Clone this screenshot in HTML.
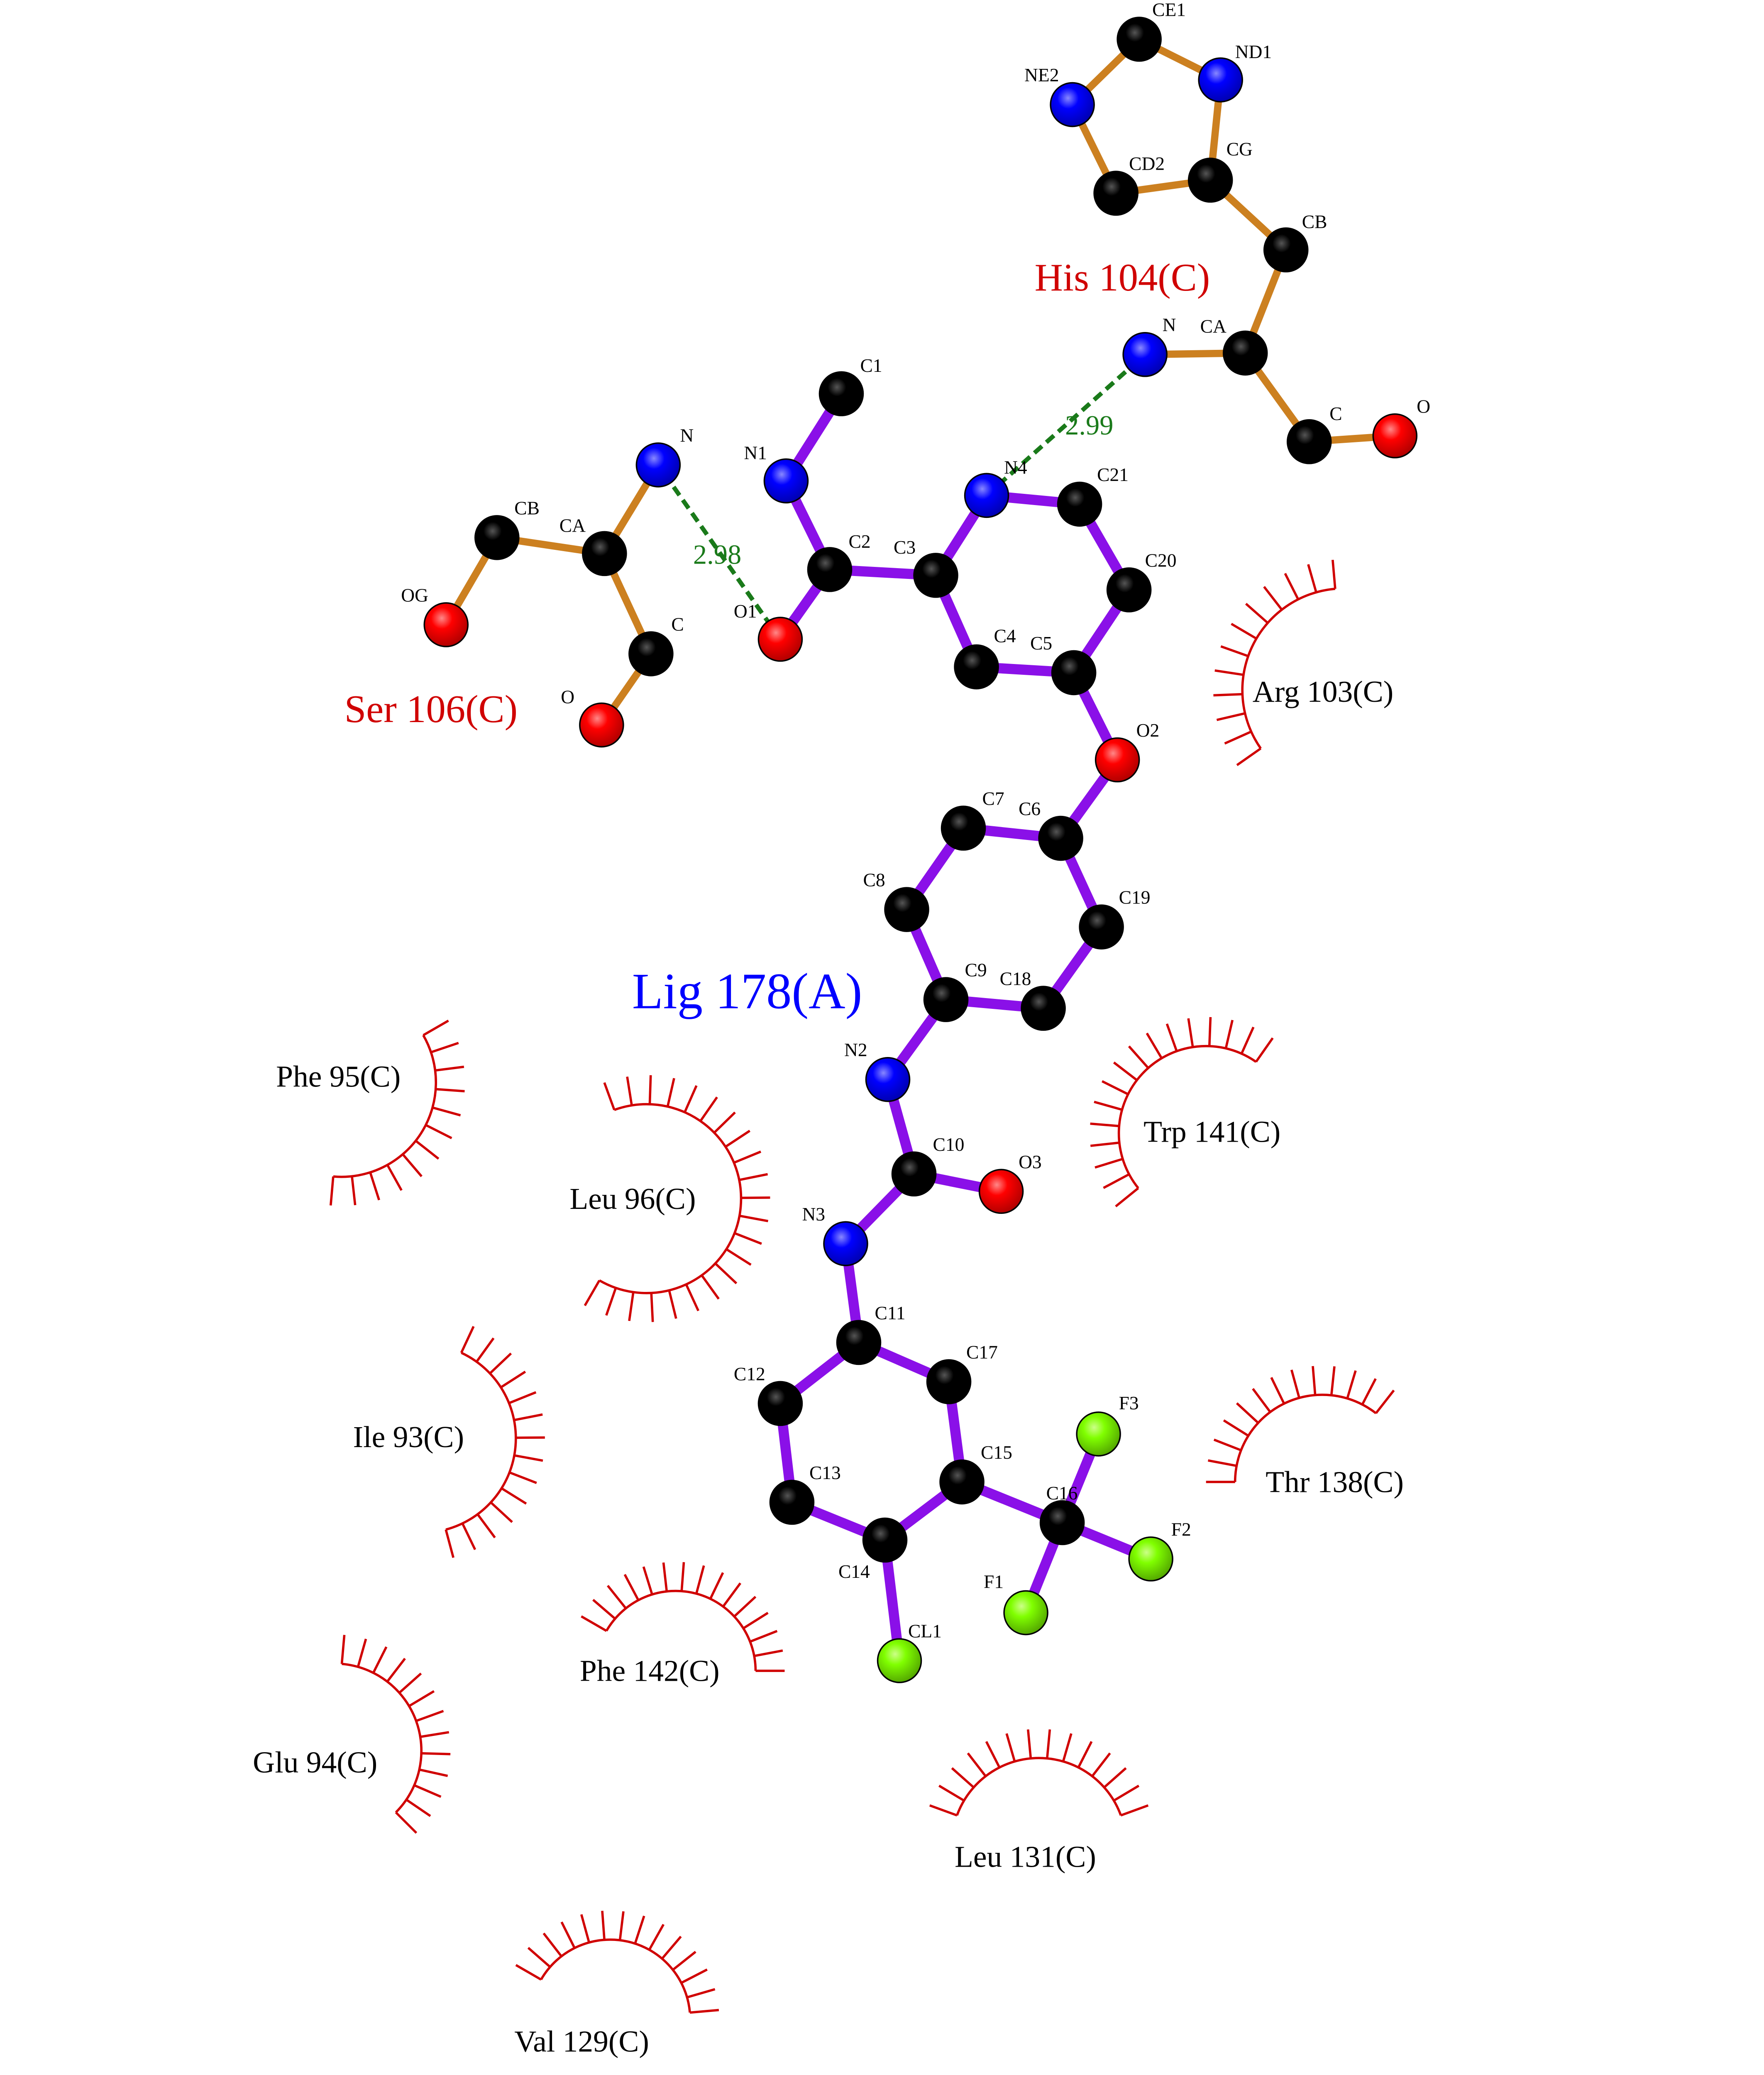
<!DOCTYPE html>
<html><head><meta charset="utf-8"><style>
html,body{margin:0;padding:0;background:#fff;width:4250px;height:5500px;overflow:hidden;}
svg{display:block;position:absolute;left:0;top:0;}
text{font-family:"Liberation Serif",serif;}
.al{font-size:13px;fill:#000;}
.hl{font-size:21px;fill:#000;}
</style></head><body>
<svg id="s" width="4250" height="5500" viewBox="0 0 1214 1571" preserveAspectRatio="none" xmlns="http://www.w3.org/2000/svg">
<defs>
<radialGradient id="gk" cx="0.4" cy="0.35" r="0.7"><stop offset="0" stop-color="#555"/><stop offset="0.3" stop-color="#000"/></radialGradient>
<radialGradient id="gb" cx="0.4" cy="0.35" r="0.7"><stop offset="0" stop-color="#88f"/><stop offset="0.35" stop-color="#0000ff"/><stop offset="1" stop-color="#0000aa"/></radialGradient>
<radialGradient id="gr" cx="0.4" cy="0.35" r="0.7"><stop offset="0" stop-color="#f88"/><stop offset="0.35" stop-color="#ff0000"/><stop offset="1" stop-color="#aa0000"/></radialGradient>
<radialGradient id="gg" cx="0.4" cy="0.35" r="0.7"><stop offset="0" stop-color="#cf8"/><stop offset="0.35" stop-color="#80ff00"/><stop offset="1" stop-color="#50a000"/></radialGradient>
</defs>
<g id="arcs" stroke="#d00000" stroke-width="1.6" fill="none"></g>
<g id="bonds" stroke-linecap="round"></g>
<g stroke="#1a7a1a" stroke-width="3" stroke-dasharray="7,4">
<line x1="679" y1="341" x2="788" y2="244"/>
<line x1="537" y1="440" x2="453" y2="320"/>
</g>
<g id="atoms" stroke="#000" stroke-width="1"></g>
<text x="733" y="299" font-size="19" fill="#1a7a1a">2.99</text>
<text x="477" y="388" font-size="19" fill="#1a7a1a">2.98</text>
<text x="712" y="200" font-size="27" fill="#d00000">His 104(C)</text>
<text x="237" y="497" font-size="27" fill="#d00000">Ser 106(C)</text>
<text x="435" y="694" font-size="35" fill="#0000ff">Lig 178(A)</text>
<text class="hl" x="862" y="483">Arg 103(C)</text>
<text class="hl" x="190" y="748">Phe 95(C)</text>
<text class="hl" x="392" y="832">Leu 96(C)</text>
<text class="hl" x="787" y="786">Trp 141(C)</text>
<text class="hl" x="243" y="996">Ile 93(C)</text>
<text class="hl" x="871" y="1027">Thr 138(C)</text>
<text class="hl" x="399" y="1157">Phe 142(C)</text>
<text class="hl" x="174" y="1220">Glu 94(C)</text>
<text class="hl" x="657" y="1285">Leu 131(C)</text>
<text class="hl" x="354" y="1412">Val 129(C)</text>
<text x="57" y="1470" font-size="16">.</text>
<g>
<text class="al" x="793" y="11">CE1</text><text class="al" x="850" y="40">ND1</text><text class="al" x="705" y="56">NE2</text>
<text class="al" x="777" y="117">CD2</text><text class="al" x="844" y="107">CG</text><text class="al" x="896" y="157">CB</text>
<text class="al" x="826" y="229">CA</text><text class="al" x="800" y="228">N</text><text class="al" x="915" y="289">C</text><text class="al" x="975" y="284">O</text>
<text class="al" x="468" y="304">N</text><text class="al" x="385" y="366">CA</text><text class="al" x="354" y="354">CB</text><text class="al" x="276" y="414">OG</text>
<text class="al" x="462" y="434">C</text><text class="al" x="386" y="484">O</text>
<text class="al" x="592" y="256">C1</text><text class="al" x="512" y="316">N1</text><text class="al" x="584" y="377">C2</text><text class="al" x="505" y="425">O1</text>
<text class="al" x="615" y="381">C3</text><text class="al" x="691" y="326">N4</text><text class="al" x="755" y="331">C21</text><text class="al" x="788" y="390">C20</text>
<text class="al" x="709" y="447">C5</text><text class="al" x="684" y="442">C4</text><text class="al" x="782" y="507">O2</text>
<text class="al" x="701" y="561">C6</text><text class="al" x="676" y="554">C7</text><text class="al" x="594" y="610">C8</text><text class="al" x="664" y="672">C9</text>
<text class="al" x="688" y="678">C18</text><text class="al" x="770" y="622">C19</text><text class="al" x="581" y="727">N2</text><text class="al" x="642" y="792">C10</text>
<text class="al" x="701" y="804">O3</text><text class="al" x="552" y="840">N3</text><text class="al" x="602" y="908">C11</text><text class="al" x="505" y="950">C12</text>
<text class="al" x="557" y="1018">C13</text><text class="al" x="577" y="1086">C14</text><text class="al" x="675" y="1004">C15</text><text class="al" x="665" y="935">C17</text>
<text class="al" x="720" y="1032">C16</text><text class="al" x="770" y="970">F3</text><text class="al" x="806" y="1057">F2</text><text class="al" x="677" y="1093">F1</text><text class="al" x="625" y="1127">CL1</text>
</g>
</svg>
<script>
var NS="http://www.w3.org/2000/svg";
function el(p,t,a){var e=document.createElementNS(NS,t);for(var k in a)e.setAttribute(k,a[k]);p.appendChild(e);return e;}
var A={CE1:[784,27,'k'],ND1:[840,55,'b'],NE2:[738,72,'b'],CD2:[768,133,'k'],CG:[833,124,'k'],CB:[885,172,'k'],CA:[857,243,'k'],N:[788,244,'b'],C:[901,304,'k'],O:[960,300,'r'],
sN:[453,320,'b'],sCA:[416,381,'k'],sCB:[342,370,'k'],sOG:[307,430,'r'],sC:[448,450,'k'],sO:[414,499,'r'],
C1:[579,271,'k'],N1:[541,331,'b'],C2:[571,392,'k'],O1:[537,440,'r'],C3:[644,396,'k'],N4:[679,341,'b'],C21:[743,347,'k'],C20:[777,406,'k'],C5:[739,463,'k'],C4:[672,459,'k'],O2:[769,523,'r'],
C6:[730,577,'k'],C7:[663,570,'k'],C8:[624,626,'k'],C9:[651,688,'k'],C18:[718,694,'k'],C19:[758,638,'k'],N2:[611,743,'b'],C10:[629,808,'k'],O3:[689,820,'r'],N3:[582,856,'b'],
C11:[591,924,'k'],C12:[537,966,'k'],C13:[545,1034,'k'],C14:[609,1060,'k'],C15:[662,1020,'k'],C17:[653,951,'k'],C16:[731,1048,'k'],F3:[756,987,'g'],F2:[792,1073,'g'],F1:[706,1110,'g'],CL1:[619,1143,'g']};
var his="CE1-ND1 CE1-NE2 NE2-CD2 CD2-CG CG-ND1 CG-CB CB-CA CA-N CA-C C-O sN-sCA sCA-sCB sCB-sOG sCA-sC sC-sO".split(" ");
var lig="C1-N1 N1-C2 C2-O1 C2-C3 C3-N4 N4-C21 C21-C20 C20-C5 C5-C4 C4-C3 C5-O2 O2-C6 C6-C7 C7-C8 C8-C9 C9-C18 C18-C19 C19-C6 C9-N2 N2-C10 C10-O3 C10-N3 N3-C11 C11-C12 C12-C13 C13-C14 C14-C15 C15-C17 C17-C11 C15-C16 C16-F3 C16-F2 C16-F1 C14-CL1".split(" ");
var B=document.getElementById('bonds');
his.forEach(function(s){var p=s.split('-'),a=A[p[0]],b=A[p[1]];el(B,'line',{x1:a[0],y1:a[1],x2:b[0],y2:b[1],stroke:'#cc8020','stroke-width':5});});
lig.forEach(function(s){var p=s.split('-'),a=A[p[0]],b=A[p[1]];el(B,'line',{x1:a[0],y1:a[1],x2:b[0],y2:b[1],stroke:'#8a10e8','stroke-width':7});});
var G=document.getElementById('atoms');
for(var k in A){var a=A[k];el(G,'circle',{cx:a[0],cy:a[1],r:15,fill:'url(#g'+a[2]+')'});}
var R=document.getElementById('arcs');
[[925,475,70,145,265],[235,745,65,-30,95],[445,825,65,-110,120],[830,780,60,141,305],[290,990,65,-65,75],[910,1020,60,180,308],[465,1150,55,210,360],[230,1205,60,-85,45],[715,1270,60,200,340],[420,1390,55,210,355]].forEach(function(c){
var cx=c[0],cy=c[1],r=c[2],s=c[3]*Math.PI/180,e=c[4]*Math.PI/180;
var x1=cx+r*Math.cos(s),y1=cy+r*Math.sin(s),x2=cx+r*Math.cos(e),y2=cy+r*Math.sin(e);
el(R,'path',{d:'M'+x1+' '+y1+' A'+r+' '+r+' 0 '+((c[4]-c[3])>180?1:0)+' 1 '+x2+' '+y2});
var n=Math.round((c[4]-c[3])/11);
for(var i=0;i<=n;i++){var t=s+(e-s)*i/n;el(R,'line',{x1:cx+r*Math.cos(t),y1:cy+r*Math.sin(t),x2:cx+(r+20)*Math.cos(t),y2:cy+(r+20)*Math.sin(t)});}
});
</script>
</body></html>
